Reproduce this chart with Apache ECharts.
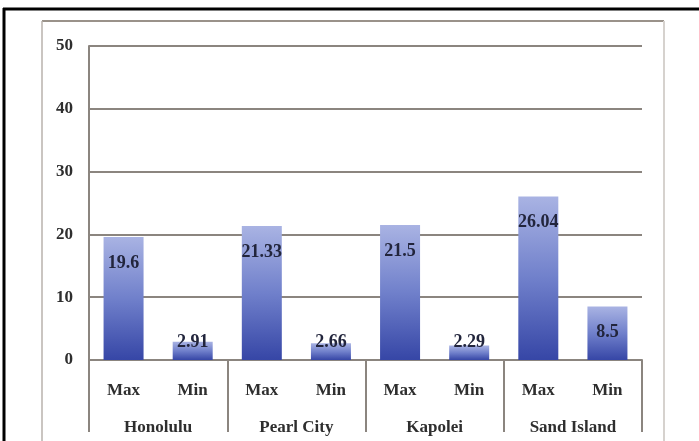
<!DOCTYPE html>
<html>
<head>
<meta charset="utf-8">
<script src="https://cdn.jsdelivr.net/npm/echarts@6/dist/echarts.min.js"></script>
<style>
  html, body { margin: 0; padding: 0; background: #ffffff; }
  #chart { width: 699px; height: 441px; }
</style>
</head>
<body>
<div id="chart"></div>
<script>
// Sites and the two readings shown for each
const cities = ['Honolulu', 'Pearl City', 'Kapolei', 'Sand Island'];
const subLabels = ['Max', 'Min'];
const maxValues = [19.6, 21.33, 21.5, 26.04];
const minValues = [2.91, 2.66, 2.29, 8.5];
const yTicks = [0, 10, 20, 30, 40, 50];

const FONT = '"Liberation Serif", "DejaVu Serif", serif';
const GRID_COLOR = '#8b857f';
const TEXT_COLOR = '#2e2e2e';

// Flatten to one bar per (city, reading) pair
const barCategories = [];
const barValues = [];
cities.forEach((c, i) => {
  barCategories.push(subLabels[0], subLabels[1]);
  barValues.push(maxValues[i], minValues[i]);
});

const barFill = new echarts.graphic.LinearGradient(0, 0, 0, 1, [
  { offset: 0, color: '#a9b3e3' },
  { offset: 0.5, color: '#7080cb' },
  { offset: 1, color: '#3646a6' }
]);

// Short bars carry their value label near the base so it stays readable
const barData = barValues.map(v => ({
  value: v,
  label: v >= 5
    ? { position: 'insideTop', distance: 17 }
    : { position: 'insideBottom', distance: 9 }
}));

const chart = echarts.init(document.getElementById('chart'), null, { renderer: 'canvas' });

chart.setOption({
  backgroundColor: '#ffffff',
  animation: false,
  grid: { left: 89, right: 57, top: 46, bottom: 81, containLabel: false },
  graphic: [
    // chart area border
    { type: 'line', shape: { x1: 42, y1: 21, x2: 664, y2: 21 }, style: { stroke: '#9a928a', lineWidth: 2 }, z: 0 },
    { type: 'line', shape: { x1: 42, y1: 21, x2: 42, y2: 441 }, style: { stroke: '#b8b2ac', lineWidth: 1.5 }, z: 0 },
    { type: 'line', shape: { x1: 664, y1: 21, x2: 664, y2: 441 }, style: { stroke: '#d6d2ce', lineWidth: 2 }, z: 0 },
    // outer frame
    { type: 'line', shape: { x1: 3, y1: 9, x2: 699, y2: 9 }, style: { stroke: '#000000', lineWidth: 3 }, z: 0 },
    { type: 'line', shape: { x1: 4, y1: 8, x2: 4, y2: 441 }, style: { stroke: '#000000', lineWidth: 3 }, z: 0 }
  ],
  xAxis: [
    {
      type: 'category',
      data: barCategories,
      position: 'bottom',
      axisLine: { show: true, lineStyle: { color: GRID_COLOR, width: 2 } },
      axisTick: { show: false },
      axisLabel: { interval: 0, margin: 22, fontFamily: FONT, fontSize: 17, fontWeight: 'bold', color: TEXT_COLOR }
    },
    {
      type: 'category',
      data: cities,
      position: 'bottom',
      axisLine: { show: false },
      axisTick: { show: true, interval: 0, length: 72, lineStyle: { color: GRID_COLOR, width: 2 } },
      axisLabel: { interval: 0, margin: 59, fontFamily: FONT, fontSize: 17, fontWeight: 'bold', color: TEXT_COLOR }
    }
  ],
  yAxis: {
    type: 'value',
    min: yTicks[0],
    max: yTicks[yTicks.length - 1],
    interval: yTicks[1] - yTicks[0],
    axisLine: { show: true, lineStyle: { color: GRID_COLOR, width: 2 } },
    axisTick: { show: false },
    splitLine: { show: true, lineStyle: { color: GRID_COLOR, width: 2 } },
    axisLabel: { margin: 16, fontFamily: FONT, fontSize: 17, fontWeight: 'bold', color: TEXT_COLOR }
  },
  series: [{
    type: 'bar',
    xAxisIndex: 0,
    data: barData,
    barWidth: 40,
    itemStyle: { color: barFill },
    label: {
      show: true,
      fontFamily: FONT,
      fontSize: 18,
      fontWeight: 'bold',
      color: '#22253c',
      formatter: p => String(p.value)
    }
  }]
});
</script>
</body>
</html>
